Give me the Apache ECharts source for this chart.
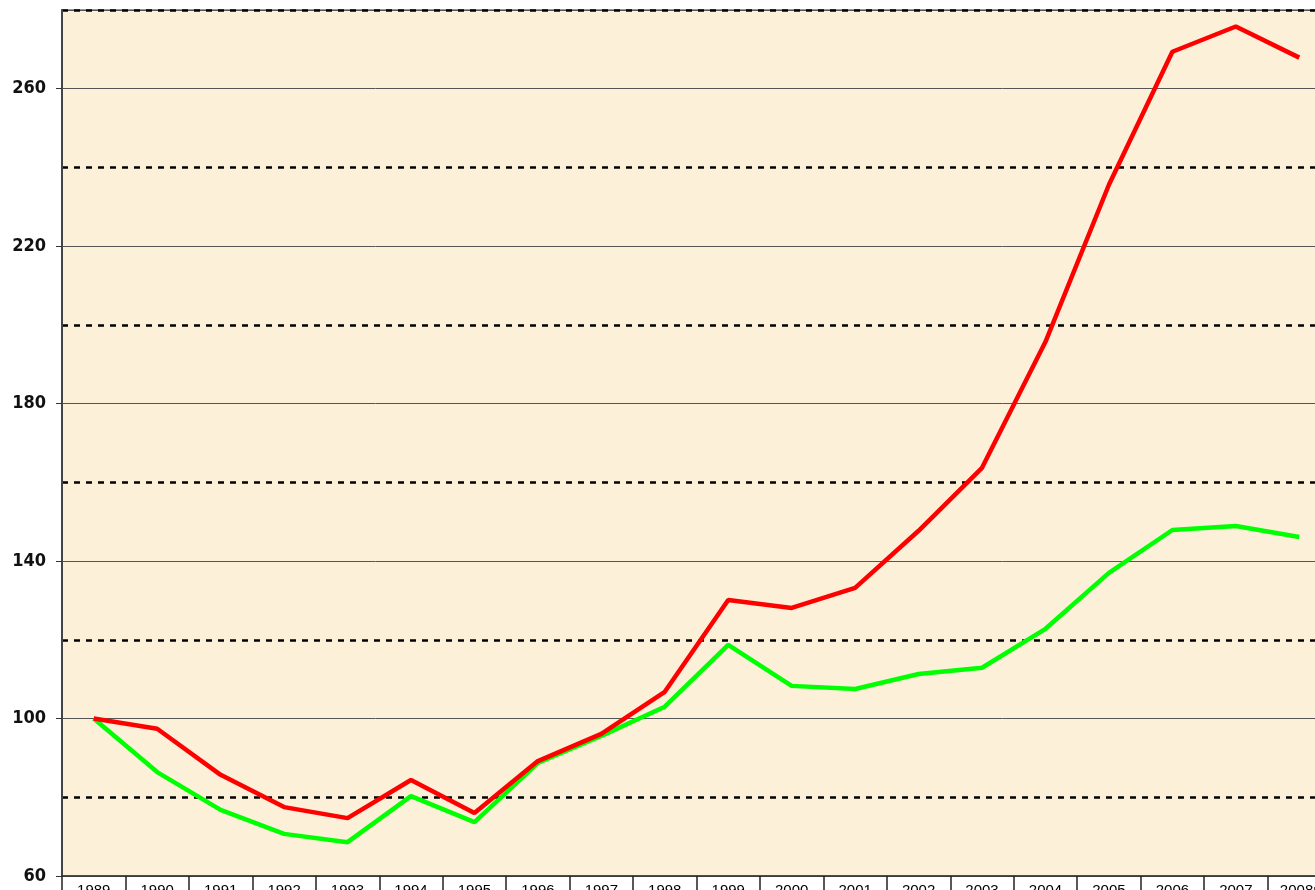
<!DOCTYPE html>
<html>
<head>
    <meta charset="utf-8">
    <title>Index chart</title>
    <script src="https://cdn.jsdelivr.net/npm/echarts@6/dist/echarts.min.js"></script>
</head>
<style>
  html, body { margin: 0; padding: 0; background: #fff; }
</style>
<body>
    <div id="main" style="width: 1315px; height: 890px;"></div>
    <script type="text/javascript">
    // data
    var years = ['1989', '1990', '1991', '1992', '1993', '1994', '1995', '1996', '1997', '1998',
                 '1999', '2000', '2001', '2002', '2003', '2004', '2005', '2006', '2007', '2008г'];
    var redValues = [100, 97.4, 85.7, 77.5, 74.7, 84.4, 76.0, 89.2, 96.1, 106.8,
                     130.1, 128.1, 133.2, 147.7, 163.7, 195.7, 235.6, 269.4, 275.8, 267.9];
    var greenValues = [100, 86.4, 76.8, 70.7, 68.6, 80.3, 73.7, 88.7, 95.6, 103.0,
                       118.7, 108.3, 107.5, 111.3, 112.9, 122.8, 137.0, 147.9, 148.9, 146.1];
    var yMin = 60, yMax = 280;

    var myChart = echarts.init(document.getElementById('main'));
    var option = {
        animation: false,
        grid: {
            left: 62, right: -16, top: 10, bottom: 14,
            outerBoundsMode: 'none',
            show: true,
            backgroundColor: '#fcf0d8',
            borderColor: '#9a9a9a',
            borderWidth: 2
        },
        xAxis: {
            type: 'category',
            data: years,
            boundaryGap: true,
            axisLine: { lineStyle: { color: '#333', width: 1.5 } },
            axisTick: { show: true, length: 30, lineStyle: { color: '#222', width: 1.5 } },
            axisLabel: {
                color: '#000', fontSize: 15, margin: 7,
                fontFamily: 'Liberation Sans, Arial, sans-serif'
            },
            splitLine: { show: false }
        },
        yAxis: [{
            type: 'value',
            min: yMin, max: yMax, interval: 40,
            axisLine: { show: true, lineStyle: { color: '#444', width: 2 } },
            axisTick: { show: true, length: 6, lineStyle: { color: '#333' } },
            axisLabel: {
                color: '#111', fontSize: 18, fontWeight: 'bold', margin: 16,
                fontFamily: 'DejaVu Sans Condensed, Liberation Sans Narrow, sans-serif',
                showMaxLabel: false
            },
            splitLine: { show: true, lineStyle: { color: '#555', width: 1 } }
        }, {
            // helper axis for the dotted lines at 80, 120, ... 280
            type: 'value',
            min: yMin, max: yMax, interval: 20,
            position: 'left',
            axisLine: { show: false },
            axisTick: { show: false },
            axisLabel: { show: false },
            splitLine: {
                show: true,
                lineStyle: { color: ['rgba(0,0,0,0)', '#000'], width: 2.5, type: [6, 6] }
            }
        }],
        series: [{
            type: 'line',
            data: greenValues,
            symbol: 'none',
            lineStyle: { color: '#00ff00', width: 4.5 },
            z: 3
        }, {
            type: 'line',
            data: redValues,
            symbol: 'none',
            lineStyle: { color: '#ff0000', width: 4.5 },
            z: 4
        }]
    };
    myChart.setOption(option);
    </script>
</body>
</html>
